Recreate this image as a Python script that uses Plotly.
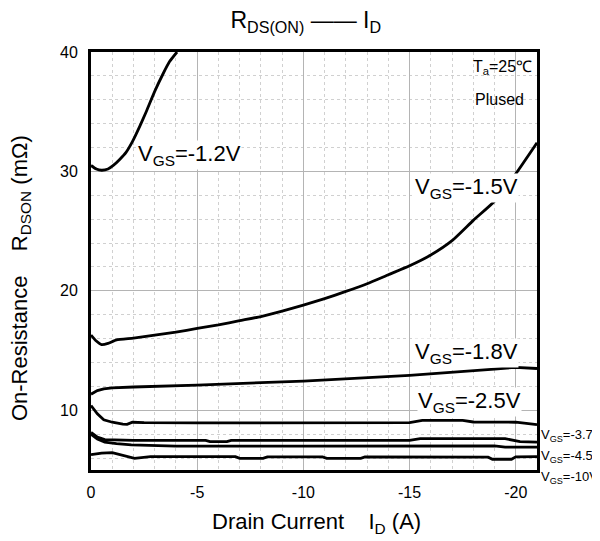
import plotly.graph_objects as go

# ---- data ----
vgs12_x = [0, -0.25, -0.5, -0.8, -1.05, -1.35, -1.65, -1.95, -2.3, -2.6, -3.0, -3.4, -3.7, -4.05]
vgs12_y = [30.5, 30.2, 30.1, 30.2, 30.5, 31.0, 31.6, 32.5, 33.8, 35.0, 36.7, 38.2, 39.2, 40.0]

vgs15_x = [0, -0.25, -0.5, -0.8, -1.2, -2, -3, -4, -5, -6, -7, -8, -9, -10, -11, -12, -13,
           -14, -15, -16, -17, -18, -19, -20, -21]
vgs15_y = [16.3, 15.8, 15.5, 15.6, 15.9, 16.05, 16.3, 16.55, 16.85, 17.15, 17.5, 17.85, 18.3,
           18.8, 19.35, 19.95, 20.6, 21.35, 22.1, 23.0, 24.2, 25.9, 27.5, 29.8, 32.4]

vgs18_x = [0, -0.3, -0.6, -1, -2, -5, -10, -15, -19, -20, -21]
vgs18_y = [11.35, 11.65, 11.8, 11.88, 11.95, 12.1, 12.45, 12.92, 13.45, 13.6, 13.5]

vgs25_x = [0, -0.3, -0.6, -1.0, -1.5, -1.7, -1.95, -2.5, -5, -10, -15, -15.6, -17.5, -18, -20, -21]
vgs25_y = [10.4, 9.7, 9.2, 9.0, 8.85, 8.82, 9.0, 8.97, 8.95, 8.93, 8.96, 9.15, 9.15, 9.02, 9.0, 8.8]

vgs37_x = [0, -0.3, -0.65, -1.2, -2, -5.4, -5.6, -6.4, -6.6, -15, -15.5, -19.5, -20.2, -21]
vgs37_y = [8.15, 7.75, 7.55, 7.5, 7.48, 7.48, 7.37, 7.37, 7.48, 7.48, 7.62, 7.62, 7.38, 7.33]

vgs45_x = [0, -0.3, -0.65, -1.2, -1.9, -3, -4, -10, -19, -19.5, -21]
vgs45_y = [8.0, 7.6, 7.34, 7.2, 7.11, 7.06, 7.0, 7.0, 7.02, 6.92, 6.92]

vgs10_x = [0, -0.5, -1.0, -1.6, -2.05, -2.8, -6.8, -7.0, -8.1, -8.3, -10.9, -11.1, -12.7, -12.9,
           -18.7, -18.9, -19.8, -20.0, -21]
vgs10_y = [6.28, 6.42, 6.45, 6.2, 5.98, 6.12, 6.12, 5.98, 5.98, 6.1, 6.1, 5.98, 5.98, 6.1,
           6.07, 5.9, 5.9, 6.1, 6.12]

x_tickvals = [0, -5, -10, -15, -20]
x_ticktext = ["0", "-5", "-10", "-15", "-20"]
y_tickvals = [10, 20, 30, 40]

Y_MIN, Y_MAX = 5, 40

series = [
    (vgs12_x, vgs12_y, "spline"),
    (vgs15_x, vgs15_y, "spline"),
    (vgs18_x, vgs18_y, "linear"),
    (vgs25_x, vgs25_y, "linear"),
    (vgs37_x, vgs37_y, "linear"),
    (vgs45_x, vgs45_y, "linear"),
    (vgs10_x, vgs10_y, "linear"),
]

FONT = "Arial, Liberation Sans, sans-serif"

fig = go.Figure()
for xs, ys, shp in series:
    fig.add_trace(go.Scatter(x=xs, y=ys, mode="lines",
                             line=dict(color="black", width=2.8, shape=shp, smoothing=0.5),
                             showlegend=False, hoverinfo="skip"))

big_labels = [
    ("V<sub>GS</sub>=-1.2V", -2.15, 31.4),
    ("V<sub>GS</sub>=-1.5V", -15.2, 28.6),
    ("V<sub>GS</sub>=-1.8V", -15.2, 14.8),
    ("V<sub>GS</sub>=-2.5V", -15.35, 10.7),
]
for txt, x, y in big_labels:
    fig.add_annotation(x=x, y=y, text=txt, showarrow=False, xanchor="left", yanchor="middle",
                       font=dict(size=22, color="black", family=FONT), bgcolor="white",
                       borderpad=0)

small_labels = [
    ("V<sub>GS</sub>=-3.7V", 7.9),
    ("V<sub>GS</sub>=-4.5V", 6.15),
    ("V<sub>GS</sub>=-10V", 4.35),
]
for txt, y in small_labels:
    fig.add_annotation(x=1.004, xref="paper", y=(y - Y_MIN) / (Y_MAX - Y_MIN), yref="paper",
                       text=txt, showarrow=False, xanchor="left", yanchor="middle",
                       font=dict(size=13, color="black", family=FONT))

fig.add_annotation(x=-20.85, y=38.7, text="T<sub>a</sub>=25℃", showarrow=False,
                   xanchor="right", yanchor="middle",
                   font=dict(size=16, color="black", family=FONT))
fig.add_annotation(x=-20.5, y=36.05, text="Plused", showarrow=False,
                   xanchor="right", yanchor="middle",
                   font=dict(size=16, color="black", family=FONT))

# axis titles as annotations for exact placement
fig.add_annotation(x=-0.157, xref="paper", y=0.459, yref="paper",
                   text="On-Resistance    R<sub>DSON</sub> (mΩ)", textangle=-90,
                   showarrow=False, xanchor="center", yanchor="middle",
                   font=dict(size=22, color="black", family=FONT))
fig.add_annotation(x=0.5045, xref="paper", y=-0.127, yref="paper",
                   text="Drain Current    I<sub>D</sub> (A)",
                   showarrow=False, xanchor="center", yanchor="middle",
                   font=dict(size=22, color="black", family=FONT))

fig.update_layout(
    width=592, height=533,
    margin=dict(l=83, r=63, t=44, b=71, autoexpand=False),
    paper_bgcolor="white", plot_bgcolor="white",
    font=dict(family=FONT, color="black"),
    title=dict(text="R<sub>DS(ON)</sub> —— I<sub>D</sub>", x=0.503, xanchor="center",
               y=0.977, yanchor="middle", font=dict(size=23, color="black", family=FONT)),
)

fig.update_xaxes(
    range=[0, -21], tickvals=x_tickvals, ticktext=x_ticktext, automargin=False,
    showgrid=True, gridcolor="#b4b4b4", gridwidth=1,
    minor=dict(dtick=1, tick0=0, showgrid=True, gridcolor="#d0d0d0", griddash="dot", gridwidth=1),
    showline=True, linecolor="black", linewidth=3, mirror=True,
    ticks="", tickfont=dict(size=16, color="black"), ticklabelstandoff=6,
    zeroline=False,
)
fig.update_yaxes(
    range=[Y_MIN, Y_MAX], tickvals=y_tickvals, automargin=False,
    showgrid=True, gridcolor="#b4b4b4", gridwidth=1,
    minor=dict(dtick=2, tick0=0, showgrid=True, gridcolor="#d0d0d0", griddash="dot", gridwidth=1),
    showline=True, linecolor="black", linewidth=3, mirror=True,
    ticks="", tickfont=dict(size=16, color="black"), ticklabelstandoff=7,
    zeroline=False,
)

fig.write_html("out.html")
